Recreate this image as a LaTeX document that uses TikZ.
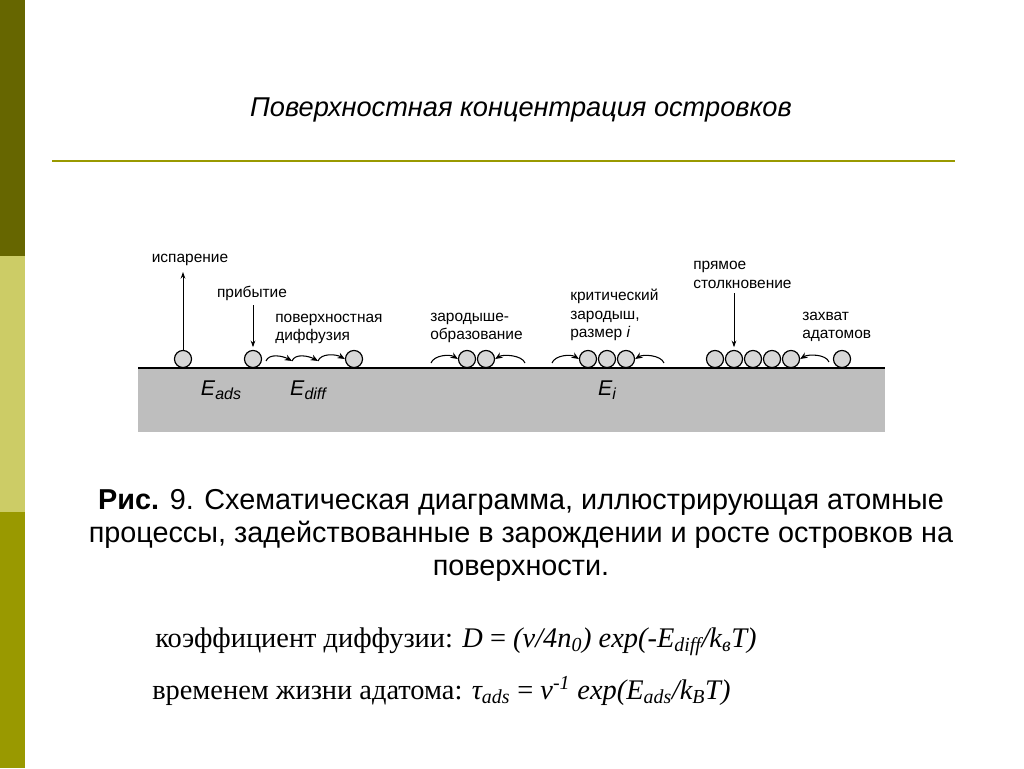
\documentclass[tikz,border=0pt]{standalone}
\usepackage{fontspec}
\setmainfont{Liberation Sans}
\newfontfamily\timesfont{Liberation Serif}
\usetikzlibrary{arrows.meta}
\pgfdeclarelayer{edgelayer}
\pgfdeclarelayer{nodelayer}
\pgfsetlayers{edgelayer,nodelayer,main}
\definecolor{olivedark}{RGB}{102,102,0}
\definecolor{olivelight}{RGB}{204,204,102}
\definecolor{olivemid}{RGB}{153,153,0}
\definecolor{ground}{RGB}{190,190,190}
\definecolor{atomfill}{RGB}{215,215,215}
\newcommand{\lowtext}[1]{\raisebox{-0.4ex}{\fontsize{12}{12}\selectfont\itshape #1}}
\tikzstyle{none}=[inner sep=0pt]
\tikzstyle{atom}=[circle,fill=atomfill,draw,line width=0.9pt,inner sep=0pt,minimum size=12.8pt]
\tikzstyle{lbl}=[inner sep=0pt,font=\fontsize{11.6}{14}\selectfont,align=left]
\tikzstyle{energy}=[inner sep=0pt,font=\fontsize{16}{16}\selectfont]
\tikzstyle{fall}=[-{Stealth[length=5pt,width=3.5pt]},line width=0.7pt]
\tikzstyle{hop}=[-{Stealth[length=5.5pt,width=4.5pt]},line width=0.8pt]

\begin{document}
\begin{tikzpicture}[x=0.75pt,y=-0.75pt]
	\useasboundingbox (0,0) rectangle (1024,768);
	\begin{pgfonlayer}{edgelayer}
		% side bar
		\fill[olivedark] (0,0) rectangle (25,256);
		\fill[olivelight] (0,256) rectangle (25,512);
		\fill[olivemid] (0,512) rectangle (25,768);
		\draw[olivemid,line width=1.5pt] (52,161) -- (955,161);
		% substrate
		\fill[ground] (138,368) rectangle (885,432);
		\draw[line width=1.2pt] (138,368) -- (885,368);
	\end{pgfonlayer}
	\begin{pgfonlayer}{nodelayer}
		\node [style=none,font=\fontsize{20.4}{24}\selectfont\itshape] (title) at (521,110) {Поверхностная концентрация островков};
		% atoms
		\node [style=atom] (1) at (183,359) {};
		\node [style=atom] (2) at (253,359) {};
		\node [style=atom] (3) at (354,359) {};
		\node [style=atom] (4) at (467,359) {};
		\node [style=atom] (5) at (486,359) {};
		\node [style=atom] (6) at (588,359) {};
		\node [style=atom] (7) at (607,359) {};
		\node [style=atom] (8) at (626,359) {};
		\foreach \i/\x in {9/715,10/734,11/753,12/772,13/791}
			\node [style=atom] (\i) at (\x,359) {};
		\node [style=atom] (14) at (842,359) {};
		% labels
		\node [style=lbl] (evap) at (190,260) {испарение};
		\node [style=lbl] (arr) at (252,293) {прибытие};
		\node [style=lbl,anchor=west] (diff) at (275,329) {поверхностная\\диффузия};
		\node [style=lbl,anchor=west] (nucl) at (430,328) {зародыше-\\образование};
		\node [style=lbl,anchor=west] (crit) at (570,315) {критический\\зародыш,\\размер \textit{i}};
		\node [style=lbl,anchor=west] (imp) at (693,275) {прямое\\столкновение};
		\node [style=lbl,anchor=west] (capt) at (802,327) {захват\\адатомов};
		\node [style=energy] (eads) at (221,390) {\textit{E}\lowtext{ads}};
		\node [style=energy] (ediff) at (308,390) {\textit{E}\lowtext{diff}};
		\node [style=energy] (ei) at (607,390) {\textit{E}\lowtext{i}};
		% free ends
		\coordinate (up) at (183,272);
		\coordinate (down) at (253,305);
		\coordinate (hit) at (734,293);
		\coordinate (h0) at (266,361);
		\coordinate (h1) at (292,361);
		\coordinate (h2) at (318,361);
		\coordinate (nl) at (431,363);
		\coordinate (nr) at (525,363);
		\coordinate (cl) at (552,363);
		\coordinate (cr) at (664,363);
		\coordinate (cp) at (829,362);
	\end{pgfonlayer}
	\draw[style=fall] (1) -- (up);
	\draw[style=fall,shorten >=2pt] (down) -- (2);
	\draw[style=fall,shorten >=2pt] (hit) -- (10);
	\draw[style=hop] (h0) .. controls +(3,-8) and +(-9,-5) .. (h1);
	\draw[style=hop] (h1) .. controls +(3,-8) and +(-9,-5) .. (h2);
	\draw[style=hop] (h2) .. controls +(3,-8) and +(-9,-5) .. (3.west);
	\draw[style=hop] (nl) .. controls +(3,-8) and +(-8,-5) .. (4.west);
	\draw[style=hop] (nr) .. controls +(-3,-8) and +(8,-5) .. (5.east);
	\draw[style=hop] (cl) .. controls +(3,-8) and +(-8,-5) .. (6.west);
	\draw[style=hop] (cr) .. controls +(-3,-8) and +(8,-5) .. (8.east);
	\draw[style=hop] (cp) .. controls +(-3,-8) and +(8,-5) .. (13.east);
	% caption and formulas
	\node [style=none,align=center,font=\fontsize{21.6}{24.75}\selectfont] (cap) at (521,535) {\textbf{Рис.} 9. Схематическая диаграмма, иллюстрирующая атомные\\процессы, задействованные в зарождении и росте островков на\\поверхности.};
	\node [style=none,anchor=west,font=\timesfont\fontsize{21.3}{24}\selectfont] (f1) at (155,642) {коэффициент диффузии: \textit{D} = \textit{(ν/4n\textsubscript{0}) exp(-E\textsubscript{diff}/k\textsubscript{в}T)}};
	\node [style=none,anchor=west,font=\timesfont\fontsize{21.3}{24}\selectfont] (f2) at (152,691) {временем жизни адатома: \textit{τ\textsubscript{ads}} = \textit{ν\textsuperscript{-1} exp(E\textsubscript{ads}/k\textsubscript{B}T)}};
\end{tikzpicture}
\end{document}
